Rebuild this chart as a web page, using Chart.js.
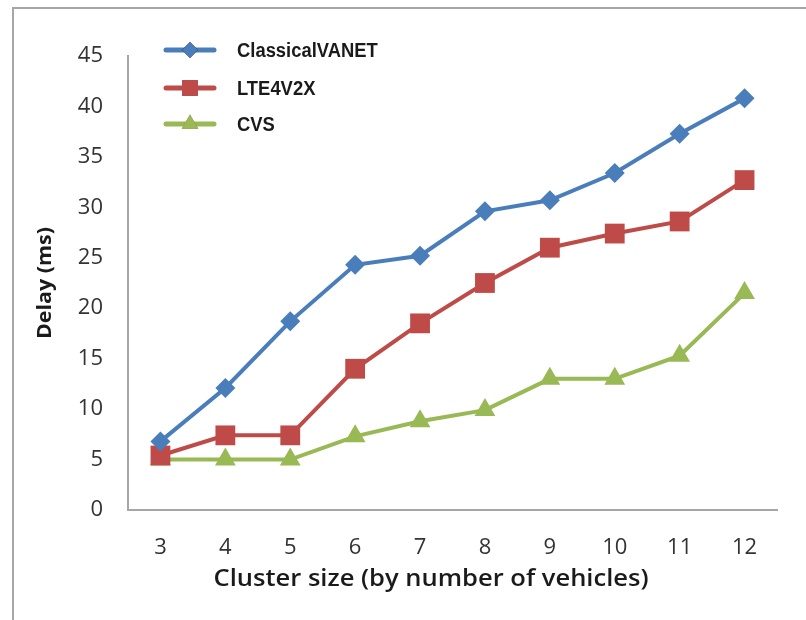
<!DOCTYPE html>
<html>
<head>
<meta charset="utf-8">
<title>Delay vs cluster size</title>
<script src="https://cdn.jsdelivr.net/npm/chart.js@4.4.0/dist/chart.umd.min.js"></script>
<style>
    html, body { margin: 0; padding: 0; background: #ffffff; }
    #wrap { width: 806px; height: 620px; }
</style>
</head>
<body>
<div id="wrap"><canvas id="delayChart" width="806" height="620"></canvas></div>
<script>
const clusterSizes = ['3', '4', '5', '6', '7', '8', '9', '10', '11', '12'];
const classicalVanet = [6.8, 12.1, 18.7, 24.3, 25.2, 29.6, 30.7, 33.4, 37.3, 40.8];
const lte4v2x = [5.4, 7.4, 7.4, 14.0, 18.5, 22.5, 26.0, 27.4, 28.6, 32.7];
const cvs = [5.0, 5.0, 5.0, 7.3, 8.8, 9.9, 13.0, 13.0, 15.3, 21.5];
const yTicks = [0, 5, 10, 15, 20, 25, 30, 35, 40, 45];

const frameGray = '#a6a6a6';

// draws text centred on (x, y), squeezed or stretched to a given width
function fitText(ctx, text, x, y, width) {
    const w = ctx.measureText(text).width;
    ctx.save();
    ctx.translate(x, y);
    ctx.scale(width / w, 1);
    ctx.textAlign = 'center';
    ctx.textBaseline = 'middle';
    ctx.fillText(text, 0, 0);
    ctx.restore();
}

// outer frame, legend and axis titles drawn straight on the canvas
const decorations = {
    id: 'decorations',
    beforeDraw(chart) {
        const ctx = chart.ctx;
        ctx.save();
        ctx.fillStyle = '#ffffff';
        ctx.fillRect(0, 0, chart.width, chart.height);
        ctx.strokeStyle = frameGray;
        ctx.lineWidth = 2;
        ctx.beginPath();
        ctx.moveTo(13, chart.height);
        ctx.lineTo(13, 8);
        ctx.lineTo(chart.width, 8);
        ctx.stroke();
        ctx.restore();
    },
    afterDraw(chart) {
        const ctx = chart.ctx;
        const area = chart.chartArea;
        ctx.save();

        // legend
        const rows = [50, 88, 124];
        chart.data.datasets.forEach((ds, i) => {
            const y = rows[i];
            ctx.strokeStyle = ds.borderColor;
            ctx.lineWidth = 5;
            ctx.lineCap = 'round';
            ctx.beginPath();
            ctx.moveTo(166, y);
            ctx.lineTo(214, y);
            ctx.stroke();
            Chart.helpers.drawPoint(ctx, {
                pointStyle: ds.pointStyle,
                radius: ds.pointRadius * 0.8,
                borderWidth: 0
            }, 190, y);
            ctx.fillStyle = ds.backgroundColor;
            ctx.fill();

            ctx.save();
            ctx.translate(237, y);
            ctx.scale(0.92, 1);
            ctx.fillStyle = '#1a1a1a';
            ctx.font = 'bold 20px "Liberation Sans", Arial, sans-serif';
            ctx.textBaseline = 'middle';
            ctx.fillText(ds.label, 0, 1);
            ctx.restore();
        });

        ctx.fillStyle = '#1a1a1a';

        // y axis title
        ctx.save();
        ctx.translate(46, (area.top + area.bottom) / 2);
        ctx.rotate(-Math.PI / 2);
        ctx.font = 'bold 19px "Open Sans", sans-serif';
        fitText(ctx, 'Delay (ms)', 0, 0, 112);
        ctx.restore();

        // x axis title
        ctx.font = '600 23px "Open Sans", sans-serif';
        fitText(ctx, 'Cluster size (by number of vehicles)', 431, 579, 435);

        ctx.restore();
    }
};

const ctx = document.getElementById('delayChart').getContext('2d');
const delayChart = new Chart(ctx, {
    type: 'line',
    data: {
        labels: clusterSizes,
        datasets: [{
            label: 'ClassicalVANET',
            data: classicalVanet,
            borderColor: '#4a7ebb',
            backgroundColor: '#4a7ebb',
            pointStyle: 'rectRot',
            pointRadius: 10,
        }, {
            label: 'LTE4V2X',
            data: lte4v2x,
            borderColor: '#be4b48',
            backgroundColor: '#be4b48',
            pointStyle: 'rect',
            pointRadius: 14,
        }, {
            label: 'CVS',
            data: cvs,
            borderColor: '#98b954',
            backgroundColor: '#98b954',
            pointStyle: 'triangle',
            pointRadius: 12,
        }]
    },
    options: {
        responsive: false,
        animation: false,
        datasets: {
            line: {
                borderWidth: 4,
                tension: 0,
                pointBorderWidth: 0,
                pointHoverRadius: 12,
            }
        },
        layout: {
            padding: { top: 56, right: 29, bottom: 0, left: 0 }
        },
        plugins: {
            legend: { display: false },
            tooltip: { enabled: false }
        },
        scales: {
            x: {
                offset: true,
                afterFit(scale) { scale.height = 110; },
                grid: { display: false, drawTicks: false },
                border: { display: true, color: frameGray, width: 2 },
                ticks: {
                    padding: 25,
                    color: '#333333',
                    font: { family: '"Open Sans", sans-serif', size: 22 }
                }
            },
            y: {
                min: 0,
                max: 45,
                afterFit(scale) { scale.width = 128; },
                afterBuildTicks(scale) { scale.ticks = yTicks.map(v => ({ value: v })); },
                grid: { display: false, drawTicks: false },
                border: { display: true, color: frameGray, width: 2 },
                ticks: {
                    padding: 25,
                    color: '#333333',
                    font: { family: '"Open Sans", sans-serif', size: 22 }
                }
            }
        }
    },
    plugins: [decorations]
});
</script>
</body>
</html>
